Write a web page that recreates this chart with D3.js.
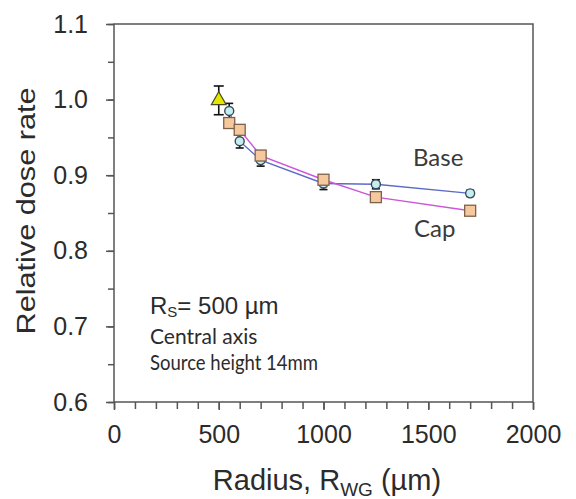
<!DOCTYPE html>
<html>
<head>
<meta charset="utf-8">
<script src="https://cdn.jsdelivr.net/npm/d3@7"></script>
<style>
    body { margin: 0; background: #fff; }
    svg { display: block; }
</style>
</head>
<body>
<div class="canvas"></div>
<script>
'use strict';

// values
const radii = [550, 600, 700, 1000, 1250, 1700];
const baseValues = [0.985, 0.945, 0.920, 0.889, 0.888, 0.876];
const baseErrors = [0.010, 0.009, 0.008, 0.008, 0.006, 0.004];
const capValues = [0.969, 0.960, 0.926, 0.894, 0.871, 0.853];
const refPoint = { r: 500, v: 0.999, err: 0.019 };

const xTicks = [0, 500, 1000, 1500, 2000];
const yTicks = [0.6, 0.7, 0.8, 0.9, 1.0, 1.1];

const dims = { width: 576, height: 499 };
const margin = { top: 24, right: 43, bottom: 97, left: 114 };
const innerW = dims.width - margin.left - margin.right;
const innerH = dims.height - margin.top - margin.bottom;

const svg = d3.select('.canvas')
    .append('svg')
    .attr('width', dims.width)
    .attr('height', dims.height);

const graph = svg.append('g')
    .attr('transform', `translate(${margin.left},${margin.top})`);

const x = d3.scaleLinear().domain([0, 2000]).range([0, innerW]);
const y = d3.scaleLinear().domain([0.6, 1.1]).range([innerH, 0]);

const axisColour = '#555';
const textColour = '#2b2b2b';

// minor ticks
graph.append('g')
    .attr('transform', `translate(0,${innerH})`)
    .call(d3.axisBottom(x).tickValues(d3.range(0, 2001, 100)).tickSize(7).tickFormat(''))
    .call(g => g.select('.domain').remove())
    .selectAll('line').attr('stroke', axisColour).attr('stroke-width', 1.5);

graph.append('g')
    .call(d3.axisLeft(y).tickValues(d3.range(0, 11).map(i => 0.6 + i * 0.05)).tickSize(6).tickFormat(''))
    .call(g => g.select('.domain').remove())
    .selectAll('line').attr('stroke', axisColour).attr('stroke-width', 1.5);

// major ticks + labels
const xAxis = graph.append('g')
    .attr('transform', `translate(0,${innerH})`)
    .call(d3.axisBottom(x).tickValues(xTicks).tickSize(8).tickPadding(15).tickFormat(d3.format('d')));

const yAxis = graph.append('g')
    .call(d3.axisLeft(y).tickValues(yTicks).tickSize(8).tickPadding(18).tickFormat(d3.format('.1f')));

[xAxis, yAxis].forEach(a => {
    a.select('.domain').remove();
    a.selectAll('line').attr('stroke', axisColour).attr('stroke-width', 1.5);
    a.selectAll('text')
        .attr('fill', textColour)
        .style('font-family', '"Liberation Sans", Arial, sans-serif')
        .style('font-size', '25px');
});

// frame
graph.append('rect')
    .attr('width', innerW)
    .attr('height', innerH)
    .attr('fill', 'none')
    .attr('stroke', axisColour)
    .attr('stroke-width', 1.5);

// series
const base = radii.map((r, i) => ({ r, v: baseValues[i], e: baseErrors[i] }));
const cap = radii.map((r, i) => ({ r, v: capValues[i] }));

const line = d3.line().x(d => x(d.r)).y(d => y(d.v));

graph.append('path')
    .datum(base)
    .attr('d', line)
    .attr('fill', 'none')
    .attr('stroke', '#5a6bc8')
    .attr('stroke-width', 1.4);

graph.append('path')
    .datum(cap)
    .attr('d', line)
    .attr('fill', 'none')
    .attr('stroke', '#cc55d8')
    .attr('stroke-width', 1.4);

const errBar = (sel, cx, lo, hi, w) => {
    sel.append('line').attr('x1', cx).attr('x2', cx).attr('y1', lo).attr('y2', hi);
    sel.append('line').attr('x1', cx - w).attr('x2', cx + w).attr('y1', lo).attr('y2', lo);
    sel.append('line').attr('x1', cx - w).attr('x2', cx + w).attr('y1', hi).attr('y2', hi);
};

const baseErr = graph.append('g').attr('stroke', '#111').attr('stroke-width', 1.6);
base.forEach(d => errBar(baseErr, x(d.r), y(d.v - d.e), y(d.v + d.e), 4));

graph.append('g').selectAll('circle')
    .data(base)
    .enter().append('circle')
    .attr('cx', d => x(d.r))
    .attr('cy', d => y(d.v))
    .attr('r', 4.5)
    .attr('fill', '#c6eef2')
    .attr('stroke', '#3a4a55')
    .attr('stroke-width', 1.4);

graph.append('g').selectAll('rect')
    .data(cap)
    .enter().append('rect')
    .attr('x', d => x(d.r) - 5.5)
    .attr('y', d => y(d.v) - 5.5)
    .attr('width', 11)
    .attr('height', 11)
    .attr('fill', '#f5c89e')
    .attr('stroke', '#7d6148')
    .attr('stroke-width', 1.3);

// reference point (triangle)
const refErr = graph.append('g').attr('stroke', '#111').attr('stroke-width', 1.6);
errBar(refErr, x(refPoint.r), y(refPoint.v - refPoint.err), y(refPoint.v + refPoint.err), 5);

graph.append('path')
    .attr('d', d3.symbol().type(d3.symbolTriangle).size(95)())
    .attr('transform', `translate(${x(refPoint.r)},${y(refPoint.v)})`)
    .attr('fill', '#e4e600')
    .attr('stroke', '#4a4a20')
    .attr('stroke-width', 1.2);

// series labels
const calibri = 'Lato, "Open Sans", sans-serif';
svg.append('text').attr('x', 413).attr('y', 166).text('Base')
    .attr('fill', '#3a3a3a').style('font-family', calibri).style('font-size', '24px');
svg.append('text').attr('x', 414).attr('y', 237).text('Cap')
    .attr('fill', '#3a3a3a').style('font-family', calibri).style('font-size', '24px');

// annotation
const note = svg.append('text').attr('x', 150).attr('y', 314)
    .attr('fill', textColour)
    .style('font-family', '"Liberation Sans", Arial, sans-serif')
    .style('font-size', '24px');
note.append('tspan').text('R');
note.append('tspan').attr('dy', 3).style('font-size', '15px').text('S');
note.append('tspan').attr('dy', -3).text('= 500 \u00b5m');

svg.append('text').attr('x', 150).attr('y', 344).text('Central axis')
    .attr('fill', textColour).style('font-family', calibri).style('font-size', '21px');
svg.append('text').attr('x', 150).attr('y', 370).text('Source height 14mm')
    .attr('textLength', 168).attr('lengthAdjust', 'spacingAndGlyphs')
    .attr('fill', textColour).style('font-family', calibri).style('font-size', '21px');

// axis titles
const xTitle = svg.append('text')
    .attr('x', 327).attr('y', 490)
    .attr('text-anchor', 'middle')
    .attr('fill', textColour)
    .style('font-family', '"Liberation Sans", Arial, sans-serif')
    .style('font-size', '29px');
xTitle.append('tspan').text('Radius, R');
xTitle.append('tspan').attr('dy', 6).style('font-size', '19px').text('WG');
xTitle.append('tspan').attr('dy', -6).text(' (\u00b5m)');

svg.append('text')
    .attr('transform', 'translate(35,211) rotate(-90)')
    .attr('text-anchor', 'middle')
    .attr('textLength', 247).attr('lengthAdjust', 'spacingAndGlyphs')
    .attr('fill', textColour)
    .style('font-family', '"Liberation Sans", Arial, sans-serif')
    .style('font-size', '26px')
    .text('Relative dose rate');
</script>
</body>
</html>
